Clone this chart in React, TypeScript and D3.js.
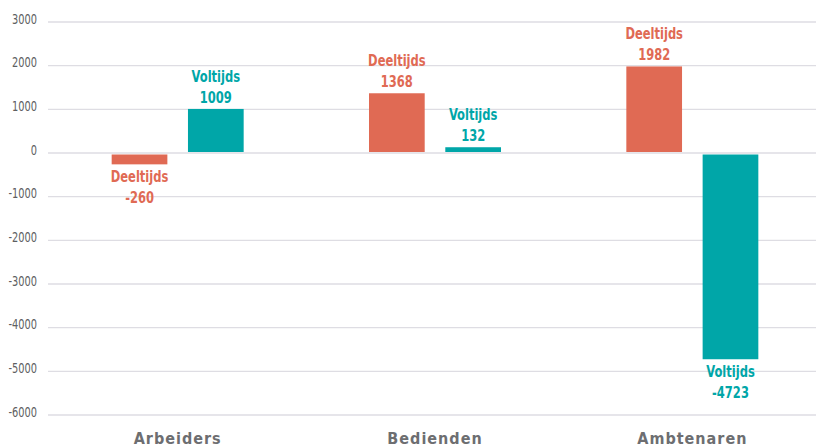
import * as d3 from 'd3';
import { useEffect, useRef } from 'react';

const categories = ['Arbeiders', 'Bedienden', 'Ambtenaren'];
const seriesNames = ['Deeltijds', 'Voltijds'];
const deeltijds = [-260, 1368, 1982];
const voltijds = [1009, 132, -4723];
const yTicks = [3000, 2000, 1000, 0, -1000, -2000, -3000, -4000, -5000, -6000];

const colors: Record<string, string> = {
  Deeltijds: '#e06a54',
  Voltijds: '#00a6a8',
};

const FONT = '"Liberation Sans Narrow", "DejaVu Sans Condensed", sans-serif';

export default function App() {
  const ref = useRef<SVGSVGElement | null>(null);

  useEffect(() => {
    if (!ref.current) return;
    const width = 816;

    const svg = d3.select(ref.current);
    svg.selectAll('*').remove();

    const y = d3.scaleLinear().domain([-6000, 3000]).range([415, 22]);
    const x = d3.scaleBand().domain(categories).range([49, 821]);
    const inner = d3
      .scaleBand()
      .domain(seriesNames)
      .range([x.bandwidth() / 2 - 66, x.bandwidth() / 2 + 66])
      .paddingInner(0.27);

    // gridlines + tick labels
    const grid = svg.append('g');
    grid
      .selectAll('line')
      .data(yTicks)
      .enter()
      .append('line')
      .attr('x1', 48)
      .attr('x2', width)
      .attr('y1', (d) => y(d))
      .attr('y2', (d) => y(d))
      .attr('stroke', '#dedde3')
      .attr('stroke-width', 1.3);

    grid
      .selectAll('text')
      .data(yTicks)
      .enter()
      .append('text')
      .attr('transform', (d) => `translate(37, ${y(d) + 1.5}) scale(0.78, 1)`)
      .attr('text-anchor', 'end')
      .attr('font-family', FONT)
      .attr('font-size', 14)
      .attr('fill', '#5e5f62')
      .text((d) => String(d));

    const rows = categories.flatMap((c, i) => [
      { cat: c, series: 'Deeltijds', value: deeltijds[i] },
      { cat: c, series: 'Voltijds', value: voltijds[i] },
    ]);

    const bars = svg.append('g');
    bars
      .selectAll('rect')
      .data(rows)
      .enter()
      .append('rect')
      .attr('x', (d) => (x(d.cat) ?? 0) + (inner(d.series) ?? 0))
      .attr('width', inner.bandwidth())
      .attr('y', (d) => (d.value >= 0 ? y(d.value) : y(0) + 1.5))
      .attr('height', (d) =>
        d.value >= 0 ? y(0) - y(d.value) - 1 : y(d.value) - y(0) - 1.5
      )
      .attr('fill', (d) => colors[d.series]);

    const labels = svg.append('g');
    rows.forEach((d) => {
      const cx = (x(d.cat) ?? 0) + (inner(d.series) ?? 0) + inner.bandwidth() / 2;
      const top = d.value >= 0;
      const base = top ? y(d.value) - 27 : y(d.value) + 18;
      const t = labels
        .append('text')
        .attr('transform', `translate(${cx}, 0) scale(0.8, 1)`)
        .attr('text-anchor', 'middle')
        .attr('font-family', FONT)
        .attr('font-weight', 'bold')
        .attr('font-size', 16)
        .attr('fill', colors[d.series]);
      t.append('tspan').attr('x', 0).attr('y', base).text(d.series);
      t.append('tspan').attr('x', 0).attr('y', base + 21).text(String(d.value));
    });

    svg
      .append('g')
      .selectAll('text')
      .data(categories)
      .enter()
      .append('text')
      .attr('x', (d) => (x(d) ?? 0) + x.bandwidth() / 2)
      .attr('y', 444)
      .attr('text-anchor', 'middle')
      .attr('font-family', FONT)
      .attr('font-weight', 'bold')
      .attr('font-size', 16)
      .attr('letter-spacing', 1)
      .attr('fill', '#6d6e71')
      .text((d) => d);
  }, []);

  return (
    <svg
      ref={ref}
      width={816}
      height={448}
      style={{ position: 'absolute', left: 0, top: 0, background: '#fff' }}
    />
  );
}
